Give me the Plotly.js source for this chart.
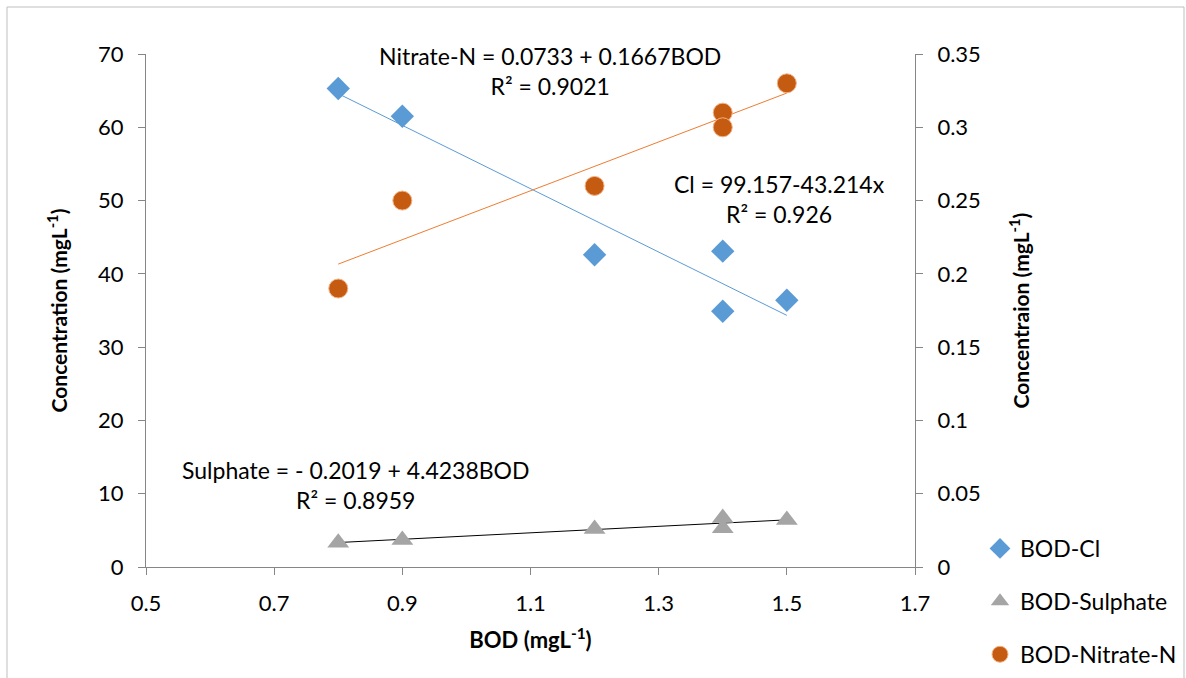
<!DOCTYPE html>
<html>
<head>
<meta charset="utf-8">
<script src="https://cdn.plot.ly/plotly-3.0.1.min.js"></script>
<style>html,body{margin:0;padding:0;background:#fff;}#chart{width:1186px;height:678px;}</style>
</head>
<body>
<div id="chart"></div>
<script>
// Data
const bod = [0.8, 0.9, 1.2, 1.4, 1.4, 1.5];
const chloride = [65.3, 61.5, 42.6, 43.1, 34.9, 36.4];
const sulphate = [3.3, 3.7, 5.2, 6.7, 5.3, 6.4];
const nitrate = [0.19, 0.25, 0.26, 0.31, 0.30, 0.33];

// Trendline coefficients [intercept, slope] as printed on chart
const clFit = [99.157, -43.214];
const sulphateFit = [-0.2019, 4.4238];
const nitrateFit = [0.0733, 0.1667];
const fitX = [Math.min(...bod), Math.max(...bod)];

const FONT = "Lato, 'Open Sans', sans-serif";

function line(fit) { return fitX.map(x => fit[0] + fit[1] * x); }

const traces = [
  {x: fitX, y: line(clFit), mode: 'lines', line: {color: '#5B9BD5', width: 1}, showlegend: false, hoverinfo: 'skip', xaxis: 'x', yaxis: 'y'},
  {x: fitX, y: line(sulphateFit), mode: 'lines', line: {color: '#000000', width: 1}, showlegend: false, hoverinfo: 'skip', xaxis: 'x', yaxis: 'y'},
  {x: fitX, y: line(nitrateFit), mode: 'lines', line: {color: '#ED7D31', width: 1}, showlegend: false, hoverinfo: 'skip', xaxis: 'x', yaxis: 'y2'},
  {x: bod, y: chloride, name: 'BOD-Cl', mode: 'markers', legendgroup: 'a',
   marker: {symbol: 'diamond', size: 18, color: '#5B9BD5', line: {width: 0}}, xaxis: 'x', yaxis: 'y'},
  {x: bod, y: sulphate, name: 'BOD-Sulphate', mode: 'markers', legendgroup: 'b',
   marker: {symbol: 'triangle-up', size: 19, color: '#A5A5A5', line: {width: 0}}, xaxis: 'x', yaxis: 'y'},
  {x: bod, y: nitrate, name: 'BOD-Nitrate-N', mode: 'markers', legendgroup: 'c',
   marker: {symbol: 'circle', size: 19, color: '#C55A11', line: {width: 1, color: '#F4B183'}}, xaxis: 'x', yaxis: 'y2'}
];

const axisCommon = {
  showgrid: false, zeroline: false, showline: true, linecolor: '#868686', linewidth: 1,
  ticks: 'outside', ticklen: 7, tickcolor: '#868686', ticklabelstandoff: 10,
  tickfont: {family: FONT, size: 22, color: '#000'}
};

const layout = {
  width: 1186, height: 678,
  margin: {l: 146, r: 271, t: 54, b: 111, autoexpand: false},
  paper_bgcolor: '#fff', plot_bgcolor: '#fff',
  font: {family: FONT, color: '#000'},
  showlegend: true,
  xaxis: Object.assign({}, axisCommon, {
    range: [0.5, 1.7], dtick: 0.2, tick0: 0.5,
    title: {text: '<b>BOD (mgL<sup>-1</sup>)</b>', font: {family: FONT, size: 22}, standoff: 17}
  }),
  yaxis: Object.assign({}, axisCommon, {
    range: [0, 70], dtick: 10,
    title: {text: '<b>Concentration (mgL<sup>-1</sup>)</b>', font: {family: FONT, size: 21}, standoff: 24}
  }),
  yaxis2: Object.assign({}, axisCommon, {
    range: [0, 0.35], dtick: 0.05, overlaying: 'y', side: 'right',
    title: {text: '<b>Concentraion (mgL<sup>-1</sup>)</b>', font: {family: FONT, size: 21}, standoff: 34}
  }),
  legend: {
    x: (980 - 146) / 769, y: (567 - 527) / 513, xref: 'paper', yref: 'paper',
    xanchor: 'left', yanchor: 'top',
    font: {family: FONT, size: 23}, tracegroupgap: 20, itemwidth: 30,
    bgcolor: 'rgba(0,0,0,0)'
  },
  annotations: [
    {text: 'Nitrate-N = 0.0733 + 0.1667BOD<br>R² = 0.9021', x: 1.13, y: 0.967, xref: 'x', yref: 'paper',
     showarrow: false, align: 'center', yanchor: 'middle', font: {family: FONT, size: 23}},
    {text: 'Cl = 99.157-43.214x<br>R² = 0.926', x: 1.489, y: 0.718, xref: 'x', yref: 'paper',
     showarrow: false, align: 'center', yanchor: 'middle', font: {family: FONT, size: 23}},
    {text: 'Sulphate = - 0.2019 + 4.4238BOD<br>R² = 0.8959', x: 0.828, y: 0.160, xref: 'x', yref: 'paper',
     showarrow: false, align: 'center', yanchor: 'middle', font: {family: FONT, size: 23}}
  ]
};

// Outer chart border (in pixels converted to paper coords)
const pw = 1186 - 146 - 271, ph = 678 - 54 - 111;
function px2x(px) { return (px - 146) / pw; }
function py2y(py) { return (678 - 111 - py) / ph; }
layout.shapes = [
  {type: 'rect', xref: 'paper', yref: 'paper', x0: px2x(7), x1: px2x(1184), y0: py2y(690), y1: py2y(7),
   line: {color: '#BFBFBF', width: 1}, fillcolor: 'rgba(0,0,0,0)', layer: 'below'}
];

Plotly.newPlot('chart', traces, layout, {displayModeBar: false, staticPlot: true});
</script>
</body>
</html>
